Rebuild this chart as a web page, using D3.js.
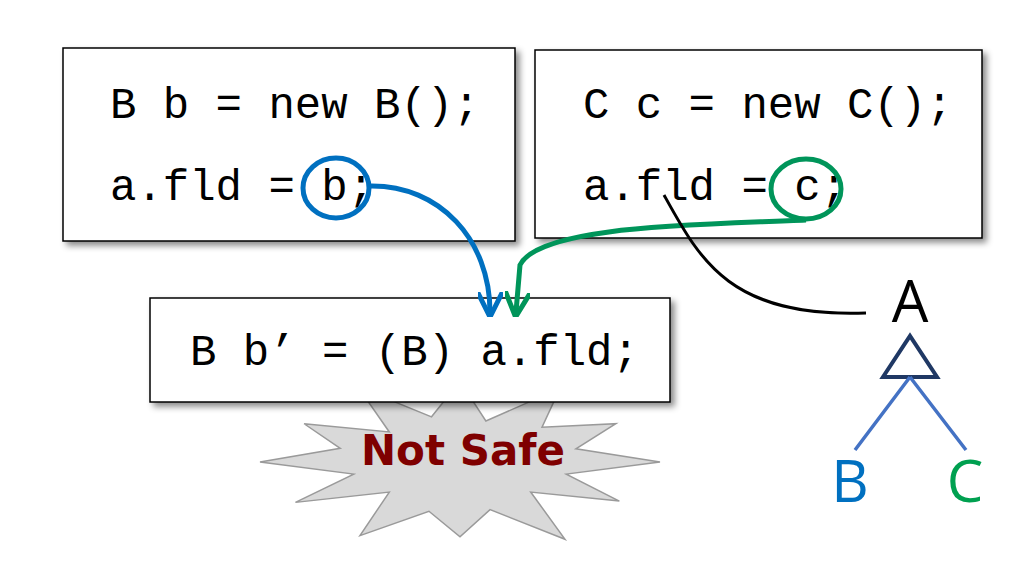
<!DOCTYPE html>
<html><head><meta charset="utf-8">
<script src="https://cdn.jsdelivr.net/npm/d3@7"></script>
<style>body{margin:0;background:#fff}</style></head>
<body><svg id="c" width="1018" height="564"></svg>
<script>
const box1Lines = ["B b = new B();", "a.fld = b;"];
const box2Lines = ["C c = new C();", "a.fld = c;"];
const box3Lines = ["B b\u2019 = (B) a.fld;"];
const treeLabels = ["A", "B", "C"];
const warning = "Not Safe";
// starburst radii (outer/inner alternating), read by eye
const starRadii = [1.0,0.55,0.92,0.5,1.05,0.58,0.88,0.6,1.0,0.5,0.95,0.55,1.0,0.62,0.9,0.5,1.02,0.55,0.95,0.5,1.0,0.58,0.9,0.6];

const svg = d3.select("#c");
const mono = "'Liberation Mono','DejaVu Sans Mono',monospace";
const defs = svg.append("defs");
const f = defs.append("filter").attr("id","sh").attr("x","-10%").attr("y","-10%").attr("width","130%").attr("height","130%");
f.append("feDropShadow").attr("dx",4).attr("dy",4).attr("stdDeviation",3).attr("flood-color","#000").attr("flood-opacity",0.45);
[["blue","#0070c0"],["green","#00955a"]].forEach(([id,c]) => {
  defs.append("marker").attr("id",id).attr("viewBox","0 0 10 10").attr("refX",8).attr("refY",5)
    .attr("markerWidth",5).attr("markerHeight",5).attr("orient","auto")
    .append("path").attr("d","M0,0 L10,5 L0,10").attr("fill","none").attr("stroke",c).attr("stroke-width",2);
});

function box(x, y, w, h, lines, tx, ty0, dy) {
  svg.append("rect").attr("x",x).attr("y",y).attr("width",w).attr("height",h)
    .attr("fill","#fff").attr("stroke","#000").attr("stroke-width",1.5).attr("filter","url(#sh)");
  lines.forEach((t,i) => svg.append("text").attr("x",tx).attr("y",ty0+i*dy)
    .attr("font-family",mono).attr("font-size",44).attr("xml:space","preserve").text(t));
}

// starburst
const cx = 460, cy = 462, rx = 200, ry = 85;
const ang = d3.scaleLinear().domain([0, starRadii.length]).range([0, 2*Math.PI]);
const pts = starRadii.map((r,i) => [cx + rx*r*Math.cos(ang(i)), cy + ry*r*Math.sin(ang(i))]);
svg.append("path").attr("d", d3.line()(pts)+"Z").attr("fill","#d9d9d9").attr("stroke","#9a9a9a").attr("stroke-width",1.5);
svg.append("text").attr("x",463).attr("y",465).attr("text-anchor","middle")
  .attr("font-family","'Comic Sans MS','DejaVu Sans',sans-serif").attr("font-weight","bold")
  .attr("font-size",42).attr("fill","#7f0000").text(warning);

box(63, 48, 452, 193, box1Lines, 110, 118, 82);
box(535, 50, 447, 188, box2Lines, 583, 118, 82);
box(150, 298, 520, 104, box3Lines, 190, 365, 0);

// circles
svg.append("ellipse").attr("cx",336).attr("cy",188).attr("rx",33).attr("ry",30)
  .attr("fill","none").attr("stroke","#0070c0").attr("stroke-width",5);
svg.append("ellipse").attr("cx",806).attr("cy",189).attr("rx",35).attr("ry",30)
  .attr("fill","none").attr("stroke","#00955a").attr("stroke-width",5);

// arrows
svg.append("path").attr("d","M370,186 C440,185 490,240 490,312")
  .attr("fill","none").attr("stroke","#0070c0").attr("stroke-width",5).attr("marker-end","url(#blue)");
svg.append("path").attr("d","M806,220 C700,225 540,225 520,265 L516,312")
  .attr("fill","none").attr("stroke","#00955a").attr("stroke-width",5).attr("marker-end","url(#green)");
svg.append("path").attr("d","M664,195 C700,260 730,318 866,313")
  .attr("fill","none").attr("stroke","#000").attr("stroke-width",3);

// tree
svg.append("path").attr("d","M883,377 L937,377 L910,336 Z").attr("fill","none").attr("stroke","#1f3864").attr("stroke-width",4);
svg.append("path").attr("d","M910,377 L855,450 M910,377 L966,450").attr("stroke","#4472c4").attr("stroke-width",3.5);
const tl = [[910,322,"#000"],[850,502,"#0070c0"],[965,502,"#00a050"]];
treeLabels.forEach((t,i) => svg.append("text").attr("x",tl[i][0]).attr("y",tl[i][1]).attr("text-anchor","middle")
  .attr("font-family","'Open Sans','DejaVu Sans',sans-serif").attr("font-size",58).attr("fill",tl[i][2]).text(t));
</script></body></html>
